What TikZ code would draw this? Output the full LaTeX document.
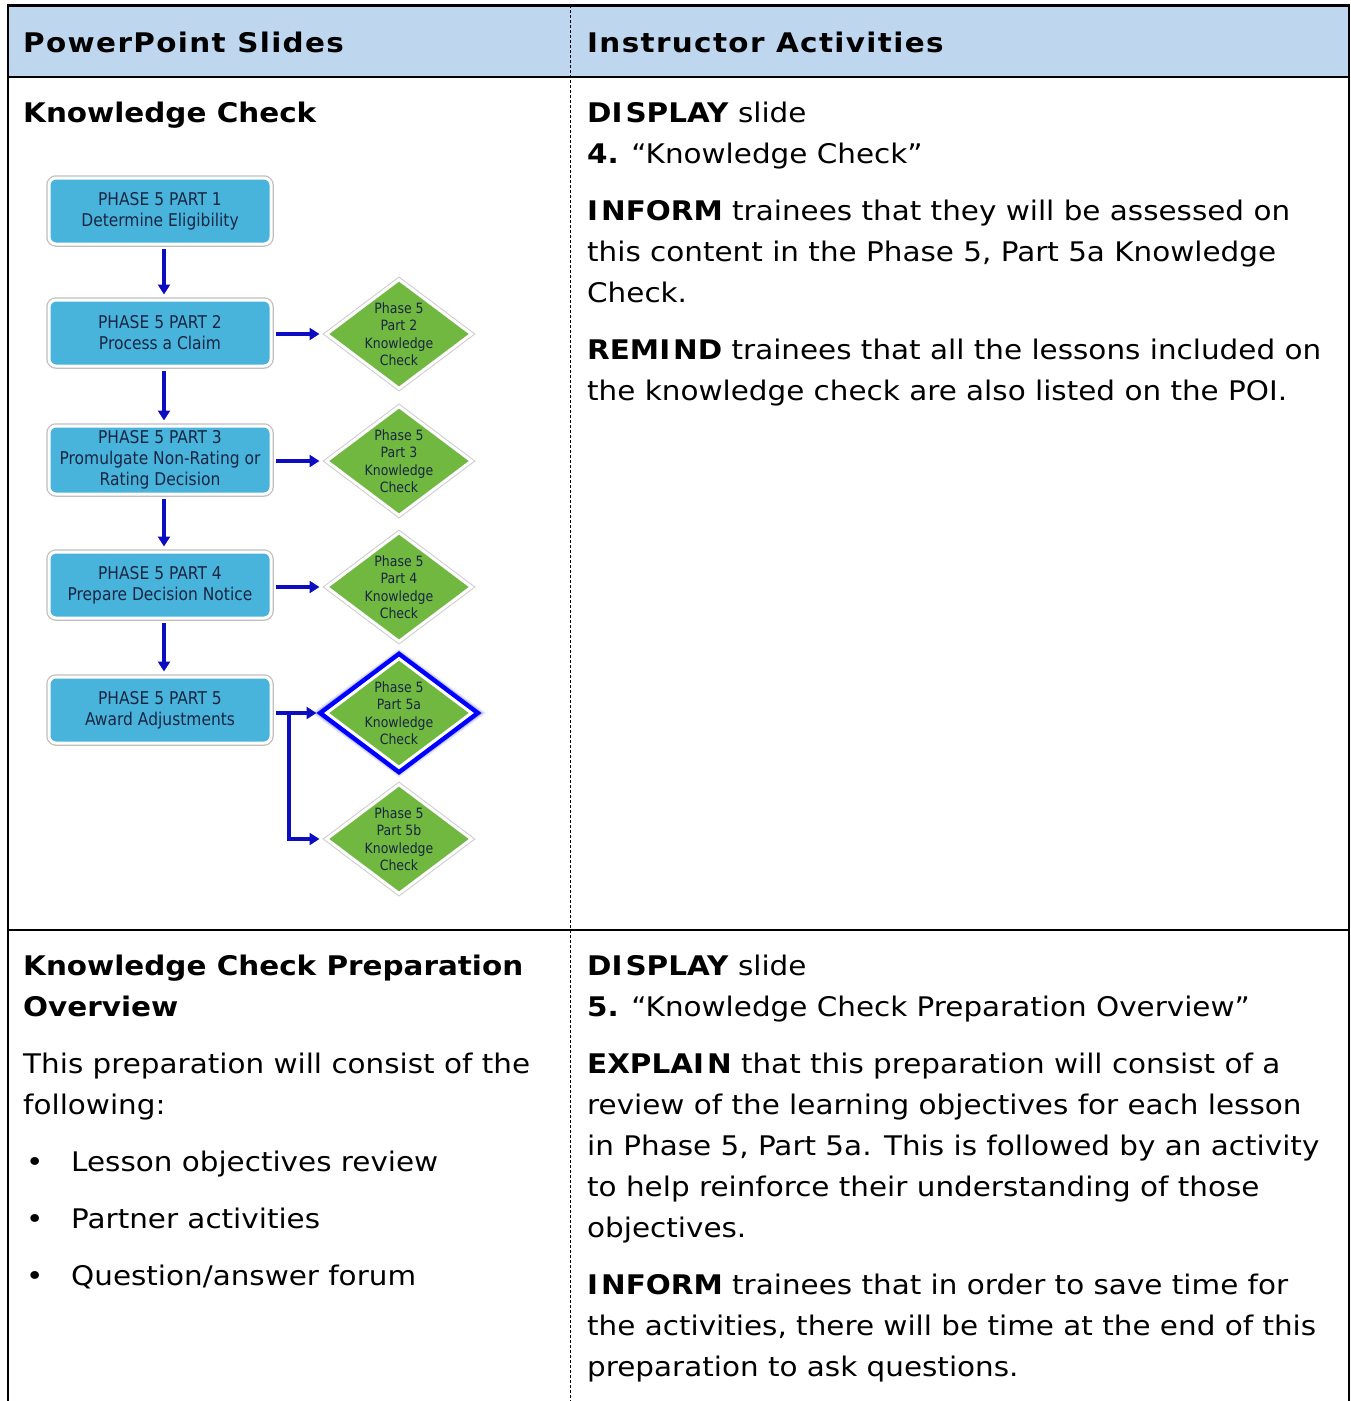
\documentclass[tikz,border=0pt]{standalone}
\usepackage{fontspec}
\setmainfont[FakeStretch=1.09]{DejaVu Sans}
\newfontfamily\hdrfont[FakeStretch=1.09,LetterSpace=5]{DejaVu Sans}
\newfontfamily\boxfont[FakeStretch=0.88]{DejaVu Sans}
\usetikzlibrary{arrows.meta,shapes.geometric,calc}
\definecolor{hdr}{RGB}{190,214,238}
\definecolor{boxblue}{RGB}{72,180,220}
\definecolor{kgreen}{RGB}{112,184,64}
\definecolor{arrblue}{RGB}{12,12,192}
\definecolor{boxtext}{RGB}{25,38,66}
\begin{document}
\begin{tikzpicture}[x=1pt,y=-1pt,
  txt/.style={anchor=base west,inner sep=0pt,font=\fontsize{27}{41}\selectfont},
  phase/.style={rounded corners=7pt,fill=boxblue,draw=white,line width=3pt,
    preaction={draw=black!25,line width=5.5pt},
    minimum width=222pt,minimum height=66pt,align=center,inner sep=0pt,
    font=\boxfont\fontsize{17.6}{21}\selectfont,text=boxtext},
  kc/.style={diamond,fill=kgreen,draw=white,line width=3pt,
    preaction={draw=black!20,line width=5pt},
    minimum width=146pt,minimum height=110pt,inner sep=0pt},
  kclab/.style={align=center,font=\boxfont\fontsize{14.2}{17.5}\selectfont,text=boxtext,inner sep=0pt},
  arr/.style={draw=arrblue,line width=3.4pt,-{Triangle[length=10pt,width=12pt]}},
  glow/.style={diamond,draw=blue,minimum width=146pt,minimum height=110pt,inner sep=0pt}
]
\useasboundingbox (0,0) rectangle (1351,1401);
\fill[white] (0,0) rectangle (1351,1401);
% table
\fill[hdr] (8,5) rectangle (1349,77);
\draw[line width=3pt] (8,5) -- (1349,5);
\draw[line width=2.5pt] (8,77) -- (1349,77);
\draw[line width=2pt] (8,930) -- (1349,930);
\draw[line width=2.5pt] (8,4) -- (8,1401);
\draw[line width=2.5pt] (1349,4) -- (1349,77);
\draw[line width=1.2pt] (1349,77) -- (1349,930);
\draw[line width=1.2pt] (1349,930) -- (1349,1401);
\draw[line width=1pt,dash pattern=on 3pt off 2pt] (570,5) -- (570,1401);

% left column text
\node[txt] (h1) at (23,52) {\hdrfont\bfseries PowerPoint Slides};
\node[txt] (l1) at (23,122) {\textbf{Knowledge Check}};
\node[txt] (l2) at (23,975) {\textbf{Knowledge Check Preparation}};
\node[txt] (l3) at (23,1016) {\textbf{Overview}};
\node[txt] (l4) at (23,1073) {This preparation will consist of the};
\node[txt] (l5) at (23,1114) {following:};
\node[txt] (b1d) at (26,1171) {•};
\node[txt] (b1) at (71,1171) {Lesson objectives review};
\node[txt] (b2d) at (26,1228) {•};
\node[txt] (b2) at (71,1228) {Partner activities};
\node[txt] (b3d) at (26,1285) {•};
\node[txt] (b3) at (71,1285) {Question/answer forum};

% right column text
\node[txt] (h2) at (587,52) {\hdrfont\bfseries Instructor Activities};
\node[txt] (r1) at (587,122) {\textbf{DI\kern3pt SPLAY} slide};
\node[txt] (r2) at (587,163) {\textbf{4.} “Knowledge Check”};
\node[txt] (r3) at (587,220) {\textbf{I\kern3pt NFORM} trainees that they will be assessed on};
\node[txt] (r4) at (587,261) {this content in the Phase 5, Part 5a Knowledge};
\node[txt] (r5) at (587,302) {Check.};
\node[txt] (r6) at (587,359) {\textbf{REMI\kern3pt ND} trainees that all the lessons included on};
\node[txt] (r7) at (587,400) {the knowledge check are also listed on the POI.};
\node[txt] (r8) at (587,975) {\textbf{DI\kern3pt SPLAY} slide};
\node[txt] (r9) at (587,1016) {\textbf{5.} “Knowledge Check Preparation Overview”};
\node[txt] (r10) at (587,1073) {\textbf{EXPLAI\kern3pt N} that this preparation will consist of a};
\node[txt] (r11) at (587,1114) {review of the learning objectives for each lesson};
\node[txt] (r12) at (587,1155) {in Phase 5, Part 5a. This is followed by an activity};
\node[txt] (r13) at (587,1196) {to help reinforce their understanding of those};
\node[txt] (r14) at (587,1237) {objectives.};
\node[txt] (r15) at (587,1294) {\textbf{I\kern3pt NFORM} trainees that in order to save time for};
\node[txt] (r16) at (587,1335) {the activities, there will be time at the end of this};
\node[txt] (r17) at (587,1376) {preparation to ask questions.};

% flowchart
\node[phase] (p1) at (160,211) {PHASE 5 PART 1\\Determine Eligibility};
\node[phase] (p2) at (160,333) {PHASE 5 PART 2\\Process a Claim};
\node[phase,minimum height=68pt] (p3) at (160,460) {PHASE 5 PART 3\\Promulgate Non-Rating or\\Rating Decision};
\node[phase] (p4) at (160,585) {PHASE 5 PART 4\\Prepare Decision Notice};
\node[phase] (p5) at (160,710) {PHASE 5 PART 5\\Award Adjustments};

\node[kc,label={[kclab]center:{Phase 5\\Part 2\\Knowledge\\Check}}] (k2) at (399,334) {};
\node[kc,label={[kclab]center:{Phase 5\\Part 3\\Knowledge\\Check}}] (k3) at (399,461) {};
\node[kc,label={[kclab]center:{Phase 5\\Part 4\\Knowledge\\Check}}] (k4) at (399,587) {};
% glow for 5a
\node[glow,line width=22pt,opacity=0.1] (g1) at (399,713) {};
\node[glow,line width=18pt,opacity=0.2] (g2) at (399,713) {};
\node[glow,line width=15pt,opacity=0.35] (g3) at (399,713) {};
\node[glow,line width=12pt,opacity=1] (g4) at (399,713) {};
\node[kc,preaction={draw=blue,line width=12pt},
  label={[kclab]center:{Phase 5\\Part 5a\\Knowledge\\Check}}] (k5a) at (399,713) {};
\node[kc,label={[kclab]center:{Phase 5\\Part 5b\\Knowledge\\Check}}] (k5b) at (399,839) {};

\coordinate (ax) at (164,0);
\coordinate (bx) at (289,0);
\draw[arr,shorten <=3pt,shorten >=4pt] (p1.south -| ax) -- (p2.north -| ax);
\draw[arr,shorten <=3pt,shorten >=4pt] (p2.south -| ax) -- (p3.north -| ax);
\draw[arr,shorten <=3pt,shorten >=4pt] (p3.south -| ax) -- (p4.north -| ax);
\draw[arr,shorten <=3pt,shorten >=4pt] (p4.south -| ax) -- (p5.north -| ax);
\draw[arr,shorten <=3pt,shorten >=5pt] (k2.west -| p2.east) -- (k2.west);
\draw[arr,shorten <=3pt,shorten >=5pt] (k3.west -| p3.east) -- (k3.west);
\draw[arr,shorten <=3pt,shorten >=5pt] (k4.west -| p4.east) -- (k4.west);
\draw[arr,shorten <=3pt,shorten >=8pt] (k5a.west -| p5.east) -- (k5a.west);
\draw[arr,shorten >=5pt] (k5a.west -| bx) |- (k5b.west);
\end{tikzpicture}
\end{document}
